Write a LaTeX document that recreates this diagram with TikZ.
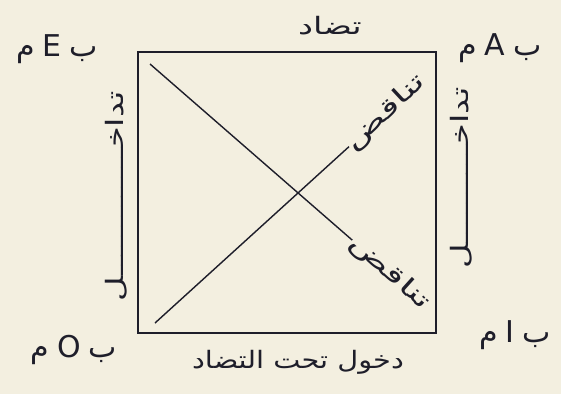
\documentclass[tikz,border=0pt]{standalone}
\usepackage{fontspec}
\setmainfont{DejaVu Sans}
\newfontfamily\arabicfont[Script=Arabic]{DejaVu Sans}
\TeXXeTstate=1
\usetikzlibrary{calc}
\definecolor{SqInk}{HTML}{1E1E2A}
\definecolor{SqPaper}{HTML}{F3EFE0}
\newcommand\arword[1]{{\arabicfont\beginR #1\endR}}

\begin{document}
\begin{tikzpicture}[x=1pt,y=-1pt,
    edge/.style={draw=SqInk,line width=1.4pt},
    corner/.style={text=SqInk,font=\fontsize{30}{30}\selectfont,inner sep=0pt},
    rel/.style={text=SqInk,font=\fontsize{24}{24}\selectfont,inner sep=0pt}
  ]
    \fill[SqPaper] (0,0) rectangle (561,394);
    \useasboundingbox (0,0) rectangle (561,394);
    % corners of the square
    \coordinate (tl) at (138,52);
    \coordinate (tr) at (436,52);
    \coordinate (br) at (436,333);
    \coordinate (bl) at (138,333);
    \draw[edge] (tl) -- (tr) -- (br) -- (bl) -- cycle;
    % the four propositions
    \foreach \name/\x/\y in {E/57/49,A/500/48,O/74/350,I/515/335}
      \node[corner] (c\name) at (\x,\y) {\arword{م}\hspace{8pt}\name\hspace{8pt}\arword{ب}};
    % relations
    \node[rel,xscale=1.4] (contrary) at (330,26) {\arword{تضاد}};
    \node[rel,xscale=1.2] (subcontrary) at (298,362) {\arword{دخول تحت التضاد}};
    \node[rel,rotate=90,xscale=1.4] (subL) at (116,196) {\arword{تداخـــــــــــــل}};
    \node[rel,rotate=90,xscale=1.4] (subR) at (461,178) {\arword{تداخــــــــــل}};
    \node[rel,rotate=43,xscale=1.6] (contraA) at (386,113) {\arword{تناقض}};
    \node[rel,rotate=-42,xscale=1.6] (contraB) at (390,273) {\arword{تناقض}};
    % diagonals run into the written words
    \coordinate (a1) at (150,64);
    \coordinate (b1) at (155,323);
    \draw[edge] (a1) -- (contraB);
    \draw[edge] (b1) -- (contraA);
  \end{tikzpicture}
\end{document}
